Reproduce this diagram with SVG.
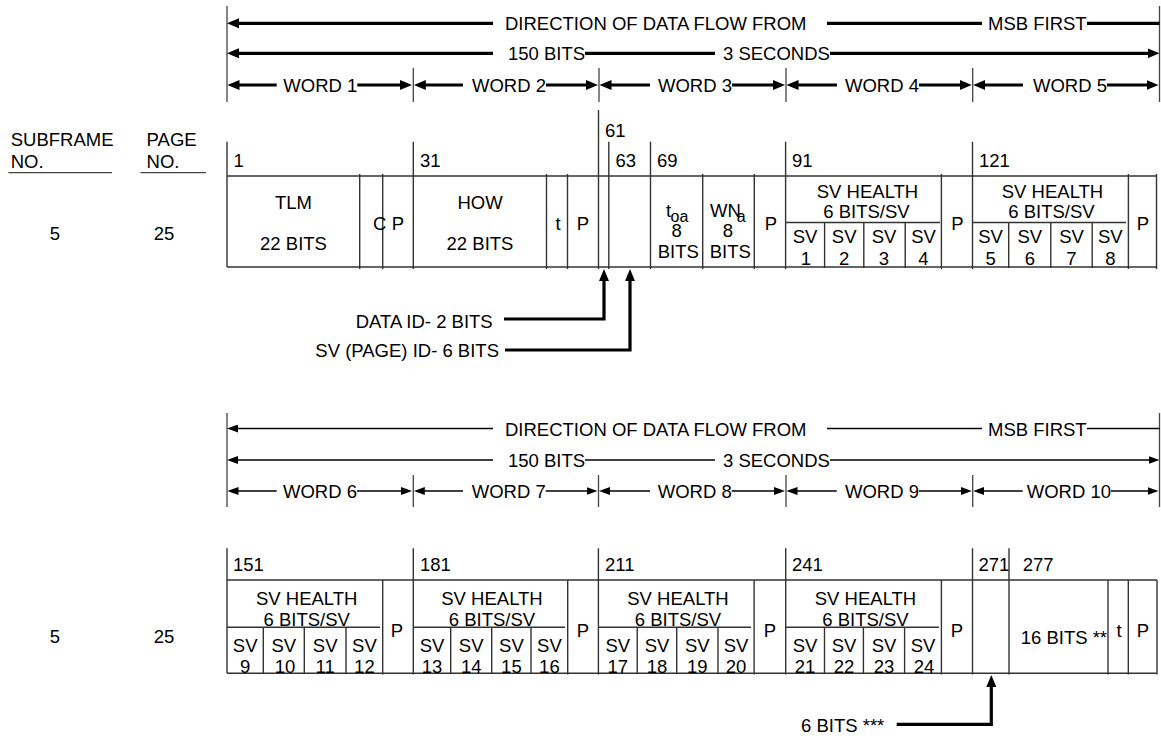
<svg xmlns="http://www.w3.org/2000/svg" width="1161" height="740" viewBox="0 0 1161 740">
<style>
.t{font-family:"Liberation Sans",Arial,sans-serif;font-size:18.5px;fill:#000}
.m{text-anchor:middle}
.e{text-anchor:end}
.tl{stroke:#333;stroke-width:1.4;fill:none}
.hk{stroke:#000;stroke-width:3.2;fill:none}
.hn{stroke:#000;stroke-width:1.3;fill:none}
.tk{stroke:#444;stroke-width:1.3;fill:none}
</style>
<defs>
<marker id="aT" markerUnits="userSpaceOnUse" viewBox="0 0 12 10" markerWidth="12" markerHeight="10" refX="4" refY="5" orient="auto-start-reverse"><path d="M0,0 L12,5 L0,10 z" fill="#000"/></marker>
<marker id="aN" markerUnits="userSpaceOnUse" viewBox="0 0 11 8" markerWidth="11" markerHeight="8" refX="3" refY="4" orient="auto-start-reverse"><path d="M0,0 L11,4 L0,8 z" fill="#000"/></marker>
</defs>
<rect width="1161" height="740" fill="#fff"/>

<g id="left-labels">
<text class="t" x="10.7" y="146">SUBFRAME</text>
<text class="t" x="10.7" y="168">NO.</text>
<line class="tk" x1="8.4" y1="172.7" x2="112" y2="172.7"/>
<text class="t" x="146.6" y="146">PAGE</text>
<text class="t" x="146.6" y="168">NO.</text>
<line class="tk" x1="140.5" y1="172.7" x2="206" y2="172.7"/>
<text class="t m" x="55" y="240">5</text>
<text class="t m" x="164" y="240">25</text>
<text class="t m" x="55" y="643">5</text>
<text class="t m" x="164" y="643">25</text>
</g>

<g id="header-top">
<g class="tk">
<line x1="227" y1="6" x2="227" y2="102"/>
<line x1="1159.5" y1="6" x2="1159.5" y2="102"/>
<line x1="413.3" y1="68" x2="413.3" y2="102"/>
<line x1="599" y1="68" x2="599" y2="102"/>
<line x1="786" y1="68" x2="786" y2="102"/>
<line x1="972.7" y1="68" x2="972.7" y2="102"/>
</g>
<line class="hk" x1="235" y1="23.3" x2="493" y2="23.3" marker-start="url(#aT)"/>
<text class="t" x="505" y="30">DIRECTION OF DATA FLOW FROM</text>
<line class="hk" x1="827" y1="23.3" x2="982" y2="23.3"/>
<text class="t" x="988" y="30">MSB FIRST</text>
<line class="hk" x1="1087" y1="23.3" x2="1159.5" y2="23.3"/>
<line class="hk" x1="235" y1="53.3" x2="493" y2="53.3" marker-start="url(#aT)"/>
<text class="t" x="508" y="60">150 BITS</text>
<line class="hk" x1="585" y1="53.3" x2="715" y2="53.3"/>
<text class="t" x="723" y="60">3 SECONDS</text>
<line class="hk" x1="830" y1="53.3" x2="1151.5" y2="53.3" marker-end="url(#aT)"/>
<g id="word1"><line class="hk" x1="235.5" y1="85" x2="276.7" y2="85" marker-start="url(#aT)"/><text class="t" x="283.3" y="92">WORD 1</text><line class="hk" x1="357.3" y1="85" x2="404" y2="85" marker-end="url(#aT)"/></g>
<g id="word2"><line class="hk" x1="421.8" y1="85" x2="463" y2="85" marker-start="url(#aT)"/><text class="t" x="472" y="92">WORD 2</text><line class="hk" x1="546" y1="85" x2="590" y2="85" marker-end="url(#aT)"/></g>
<g id="word3"><line class="hk" x1="607.5" y1="85" x2="650" y2="85" marker-start="url(#aT)"/><text class="t" x="658" y="92">WORD 3</text><line class="hk" x1="732" y1="85" x2="777" y2="85" marker-end="url(#aT)"/></g>
<g id="word4"><line class="hk" x1="794.5" y1="85" x2="837" y2="85" marker-start="url(#aT)"/><text class="t" x="845" y="92">WORD 4</text><line class="hk" x1="919" y1="85" x2="963.7" y2="85" marker-end="url(#aT)"/></g>
<g id="word5"><line class="hk" x1="981.2" y1="85" x2="1023" y2="85" marker-start="url(#aT)"/><text class="t" x="1033" y="92">WORD 5</text><line class="hk" x1="1107" y1="85" x2="1150.5" y2="85" marker-end="url(#aT)"/></g>
</g>

<g id="table-top">
<g class="tl">
<line x1="227" y1="176" x2="1157" y2="176"/>
<line x1="227" y1="267" x2="1157" y2="267"/>
<line x1="227" y1="141.7" x2="227" y2="267"/>
<line x1="413.3" y1="141.7" x2="413.3" y2="269"/>
<line x1="598.5" y1="110" x2="598.5" y2="269"/>
<line x1="608.8" y1="141.7" x2="608.8" y2="269"/>
<line x1="650.5" y1="141.7" x2="650.5" y2="269"/>
<line x1="785.6" y1="141.7" x2="785.6" y2="269"/>
<line x1="972.5" y1="141.7" x2="972.5" y2="269"/>
<line x1="359.7" y1="174" x2="359.7" y2="269"/>
<line x1="382.7" y1="174" x2="382.7" y2="269"/>
<line x1="546.5" y1="174" x2="546.5" y2="269"/>
<line x1="567.5" y1="174" x2="567.5" y2="269"/>
<line x1="702.7" y1="174" x2="702.7" y2="269"/>
<line x1="754.3" y1="174" x2="754.3" y2="269"/>
<line x1="941.4" y1="174" x2="941.4" y2="269"/>
<line x1="1128.4" y1="174" x2="1128.4" y2="269"/>
<line x1="1156.5" y1="174" x2="1156.5" y2="269"/>
<line x1="785.6" y1="222.5" x2="940" y2="222.5"/>
<line x1="972.5" y1="222.5" x2="1126" y2="222.5"/>
<line x1="824.6" y1="222.5" x2="824.6" y2="268"/>
<line x1="863.8" y1="222.5" x2="863.8" y2="268"/>
<line x1="905.2" y1="222.5" x2="905.2" y2="268"/>
<line x1="1008.7" y1="222.5" x2="1008.7" y2="268"/>
<line x1="1050.8" y1="222.5" x2="1050.8" y2="268"/>
<line x1="1092.2" y1="222.5" x2="1092.2" y2="268"/>
</g>
<text class="t" x="233.5" y="167">1</text>
<text class="t" x="420" y="167">31</text>
<text class="t" x="605" y="136.7">61</text>
<text class="t" x="615.5" y="167">63</text>
<text class="t" x="657" y="167">69</text>
<text class="t" x="792" y="167">91</text>
<text class="t" x="979" y="167">121</text>
<g id="f-tlm"><text class="t m" x="293.5" y="209.3">TLM</text><text class="t m" x="293.5" y="250">22 BITS</text></g>
<g id="f-c"><text class="t" x="373" y="230">C</text></g>
<g id="f-p1"><text class="t m" x="398" y="230">P</text></g>
<g id="f-how"><text class="t m" x="480" y="209.3">HOW</text><text class="t m" x="480" y="250">22 BITS</text></g>
<g id="f-t1"><text class="t m" x="558" y="230">t</text></g>
<g id="f-p2"><text class="t m" x="583" y="230">P</text></g>
<g id="f-toa"><text class="t" x="666" y="216.7">t<tspan x="670.5" y="221.5" font-size="16">oa</tspan></text><text class="t m" x="676.7" y="236.7">8</text><text class="t m" x="678.3" y="258.3">BITS</text></g>
<g id="f-wna"><text class="t" x="710" y="216.7">WN<tspan x="736.7" y="221.7" font-size="16">a</tspan></text><text class="t m" x="728" y="236.7">8</text><text class="t m" x="730.3" y="258.3">BITS</text></g>
<g id="f-p3"><text class="t m" x="771" y="230">P</text></g>
<g id="f-svh1"><text class="t m" x="867.5" y="198.3">SV HEALTH</text><text class="t m" x="866.5" y="218.3">6 BITS/SV</text>
<text class="t m" x="805.1" y="243.3">SV</text><text class="t m" x="806" y="265">1</text>
<text class="t m" x="844.2" y="243.3">SV</text><text class="t m" x="844.2" y="265">2</text>
<text class="t m" x="884" y="243.3">SV</text><text class="t m" x="884" y="265">3</text>
<text class="t m" x="923.5" y="243.3">SV</text><text class="t m" x="923.5" y="265">4</text></g>
<g id="f-p4"><text class="t m" x="957.5" y="230">P</text></g>
<g id="f-svh2"><text class="t m" x="1052.5" y="198.3">SV HEALTH</text><text class="t m" x="1051.5" y="218.3">6 BITS/SV</text>
<text class="t m" x="990.6" y="243.3">SV</text><text class="t m" x="990.6" y="265">5</text>
<text class="t m" x="1029.8" y="243.3">SV</text><text class="t m" x="1029.8" y="265">6</text>
<text class="t m" x="1071.5" y="243.3">SV</text><text class="t m" x="1071.5" y="265">7</text>
<text class="t m" x="1110.3" y="243.3">SV</text><text class="t m" x="1110.3" y="265">8</text></g>
<g id="f-p5"><text class="t m" x="1143" y="230">P</text></g>
<text class="t e" x="492.7" y="328.3">DATA ID- 2 BITS</text>
<text class="t e" x="499" y="357.3">SV (PAGE) ID- 6 BITS</text>
</g>

<g id="header-bottom">
<g class="tk">
<line x1="227" y1="413" x2="227" y2="507"/>
<line x1="1159.5" y1="413" x2="1159.5" y2="507"/>
<line x1="413.3" y1="475" x2="413.3" y2="507"/>
<line x1="598.5" y1="475" x2="598.5" y2="507"/>
<line x1="786" y1="475" x2="786" y2="507"/>
<line x1="972.7" y1="475" x2="972.7" y2="507"/>
</g>
<line class="hn" x1="235" y1="428.5" x2="493" y2="428.5" marker-start="url(#aN)"/>
<text class="t" x="505" y="435.5">DIRECTION OF DATA FLOW FROM</text>
<line class="hn" x1="827" y1="428.5" x2="982" y2="428.5"/>
<text class="t" x="988" y="435.5">MSB FIRST</text>
<line class="hn" x1="1087" y1="428.5" x2="1159.5" y2="428.5"/>
<line class="hn" x1="235" y1="460" x2="493" y2="460" marker-start="url(#aN)"/>
<text class="t" x="508" y="467">150 BITS</text>
<line class="hn" x1="585" y1="460" x2="715" y2="460"/>
<text class="t" x="723" y="467">3 SECONDS</text>
<line class="hn" x1="830" y1="460" x2="1151.5" y2="460" marker-end="url(#aN)"/>
<g id="word6"><line class="hn" x1="235.5" y1="491" x2="276.7" y2="491" marker-start="url(#aN)"/><text class="t" x="283" y="497.5">WORD 6</text><line class="hn" x1="357" y1="491" x2="404" y2="491" marker-end="url(#aN)"/></g>
<g id="word7"><line class="hn" x1="421.8" y1="491" x2="463" y2="491" marker-start="url(#aN)"/><text class="t" x="471.7" y="497.5">WORD 7</text><line class="hn" x1="545.7" y1="491" x2="589.5" y2="491" marker-end="url(#aN)"/></g>
<g id="word8"><line class="hn" x1="607" y1="491" x2="650" y2="491" marker-start="url(#aN)"/><text class="t" x="657.7" y="497.5">WORD 8</text><line class="hn" x1="731.7" y1="491" x2="777" y2="491" marker-end="url(#aN)"/></g>
<g id="word9"><line class="hn" x1="794.5" y1="491" x2="836.7" y2="491" marker-start="url(#aN)"/><text class="t" x="845" y="497.5">WORD 9</text><line class="hn" x1="919" y1="491" x2="963.7" y2="491" marker-end="url(#aN)"/></g>
<g id="word10"><line class="hn" x1="981.2" y1="491" x2="1022.7" y2="491" marker-start="url(#aN)"/><text class="t" x="1026.7" y="497.5">WORD 10</text><line class="hn" x1="1111" y1="491" x2="1150.5" y2="491" marker-end="url(#aN)"/></g>
</g>

<g id="table-bottom">
<g class="tl">
<line x1="227" y1="580" x2="1157" y2="580"/>
<line x1="227" y1="673.3" x2="1157" y2="673.3"/>
<line x1="227" y1="548.3" x2="227" y2="673.3"/>
<line x1="413.3" y1="548.3" x2="413.3" y2="674.5"/>
<line x1="598.4" y1="548.3" x2="598.4" y2="674.5"/>
<line x1="785.7" y1="548.3" x2="785.7" y2="674.5"/>
<line x1="972.5" y1="548.3" x2="972.5" y2="674.5"/>
<line x1="1009" y1="548.3" x2="1009" y2="674.5"/>
<line x1="382.7" y1="580" x2="382.7" y2="674.5"/>
<line x1="567.7" y1="580" x2="567.7" y2="674.5"/>
<line x1="754.1" y1="580" x2="754.1" y2="674.5"/>
<line x1="941.4" y1="580" x2="941.4" y2="674.5"/>
<line x1="1108" y1="580" x2="1108" y2="674.5"/>
<line x1="1128.3" y1="580" x2="1128.3" y2="674.5"/>
<line x1="1157" y1="580" x2="1157" y2="674.5"/>
<line x1="227" y1="627.3" x2="380" y2="627.3"/>
<line x1="413.3" y1="627.3" x2="565" y2="627.3"/>
<line x1="598.4" y1="627.3" x2="751" y2="627.3"/>
<line x1="785.7" y1="627.3" x2="939" y2="627.3"/>
<line x1="263.3" y1="627.3" x2="263.3" y2="673.3"/>
<line x1="304.3" y1="627.3" x2="304.3" y2="673.3"/>
<line x1="346" y1="627.3" x2="346" y2="673.3"/>
<line x1="450.7" y1="627.3" x2="450.7" y2="673.3"/>
<line x1="491.7" y1="627.3" x2="491.7" y2="673.3"/>
<line x1="531" y1="627.3" x2="531" y2="673.3"/>
<line x1="637.2" y1="627.3" x2="637.2" y2="673.3"/>
<line x1="676.7" y1="627.3" x2="676.7" y2="673.3"/>
<line x1="718" y1="627.3" x2="718" y2="673.3"/>
<line x1="824.5" y1="627.3" x2="824.5" y2="673.3"/>
<line x1="863.4" y1="627.3" x2="863.4" y2="673.3"/>
<line x1="904.6" y1="627.3" x2="904.6" y2="673.3"/>
</g>
<text class="t" x="233" y="570.7">151</text>
<text class="t" x="420" y="570.7">181</text>
<text class="t" x="605" y="570.7">211</text>
<text class="t" x="792" y="570.7">241</text>
<text class="t" x="978.5" y="570.7">271</text>
<text class="t" x="1022.7" y="570.7">277</text>
<g id="f-svh3"><text class="t m" x="306.7" y="605">SV HEALTH</text><text class="t m" x="306.7" y="626">6 BITS/SV</text>
<text class="t m" x="245.2" y="652.3">SV</text><text class="t m" x="245.2" y="672.7">9</text>
<text class="t m" x="283.8" y="652.3">SV</text><text class="t m" x="285" y="672.7">10</text>
<text class="t m" x="325.2" y="652.3">SV</text><text class="t m" x="325.2" y="672.7">11</text>
<text class="t m" x="364.4" y="652.3">SV</text><text class="t m" x="364.4" y="672.7">12</text></g>
<g id="f-p6"><text class="t m" x="397" y="636.7">P</text></g>
<g id="f-svh4"><text class="t m" x="492" y="605">SV HEALTH</text><text class="t m" x="492" y="626">6 BITS/SV</text>
<text class="t m" x="432" y="652.3">SV</text><text class="t m" x="432" y="672.7">13</text>
<text class="t m" x="471.2" y="652.3">SV</text><text class="t m" x="471.2" y="672.7">14</text>
<text class="t m" x="511.4" y="652.3">SV</text><text class="t m" x="511.4" y="672.7">15</text>
<text class="t m" x="549.4" y="652.3">SV</text><text class="t m" x="549.4" y="672.7">16</text></g>
<g id="f-p7"><text class="t m" x="583" y="636.7">P</text></g>
<g id="f-svh5"><text class="t m" x="678" y="605">SV HEALTH</text><text class="t m" x="678" y="626">6 BITS/SV</text>
<text class="t m" x="617.8" y="652.3">SV</text><text class="t m" x="617.8" y="672.7">17</text>
<text class="t m" x="657" y="652.3">SV</text><text class="t m" x="657" y="672.7">18</text>
<text class="t m" x="697.3" y="652.3">SV</text><text class="t m" x="697.3" y="672.7">19</text>
<text class="t m" x="736" y="652.3">SV</text><text class="t m" x="736" y="672.7">20</text></g>
<g id="f-p8"><text class="t m" x="770" y="636.7">P</text></g>
<g id="f-svh6"><text class="t m" x="865.5" y="605">SV HEALTH</text><text class="t m" x="865.5" y="626">6 BITS/SV</text>
<text class="t m" x="805.1" y="652.3">SV</text><text class="t m" x="805.1" y="672.7">21</text>
<text class="t m" x="844" y="652.3">SV</text><text class="t m" x="844" y="672.7">22</text>
<text class="t m" x="884" y="652.3">SV</text><text class="t m" x="884" y="672.7">23</text>
<text class="t m" x="923" y="652.3">SV</text><text class="t m" x="924" y="672.7">24</text></g>
<g id="f-p9"><text class="t m" x="957" y="636.7">P</text></g>
<g id="f-16bits"><text class="t" x="1020.7" y="644">16 BITS **</text></g>
<g id="f-t2"><text class="t m" x="1119" y="636.5">t</text></g>
<g id="f-p10"><text class="t m" x="1143" y="636.5">P</text></g>
<text class="t" x="801" y="731.7">6 BITS ***</text>
</g>

<g id="connectors">
<polyline class="hk" points="504,319 604,319 604,277" marker-end="url(#aT)"/>
<polyline class="hk" points="505,350 630,350 630,277" marker-end="url(#aT)"/>
<polyline class="hk" points="896.7,724.3 991.3,724.3 991.3,683" marker-end="url(#aT)"/>
</g>
</svg>
